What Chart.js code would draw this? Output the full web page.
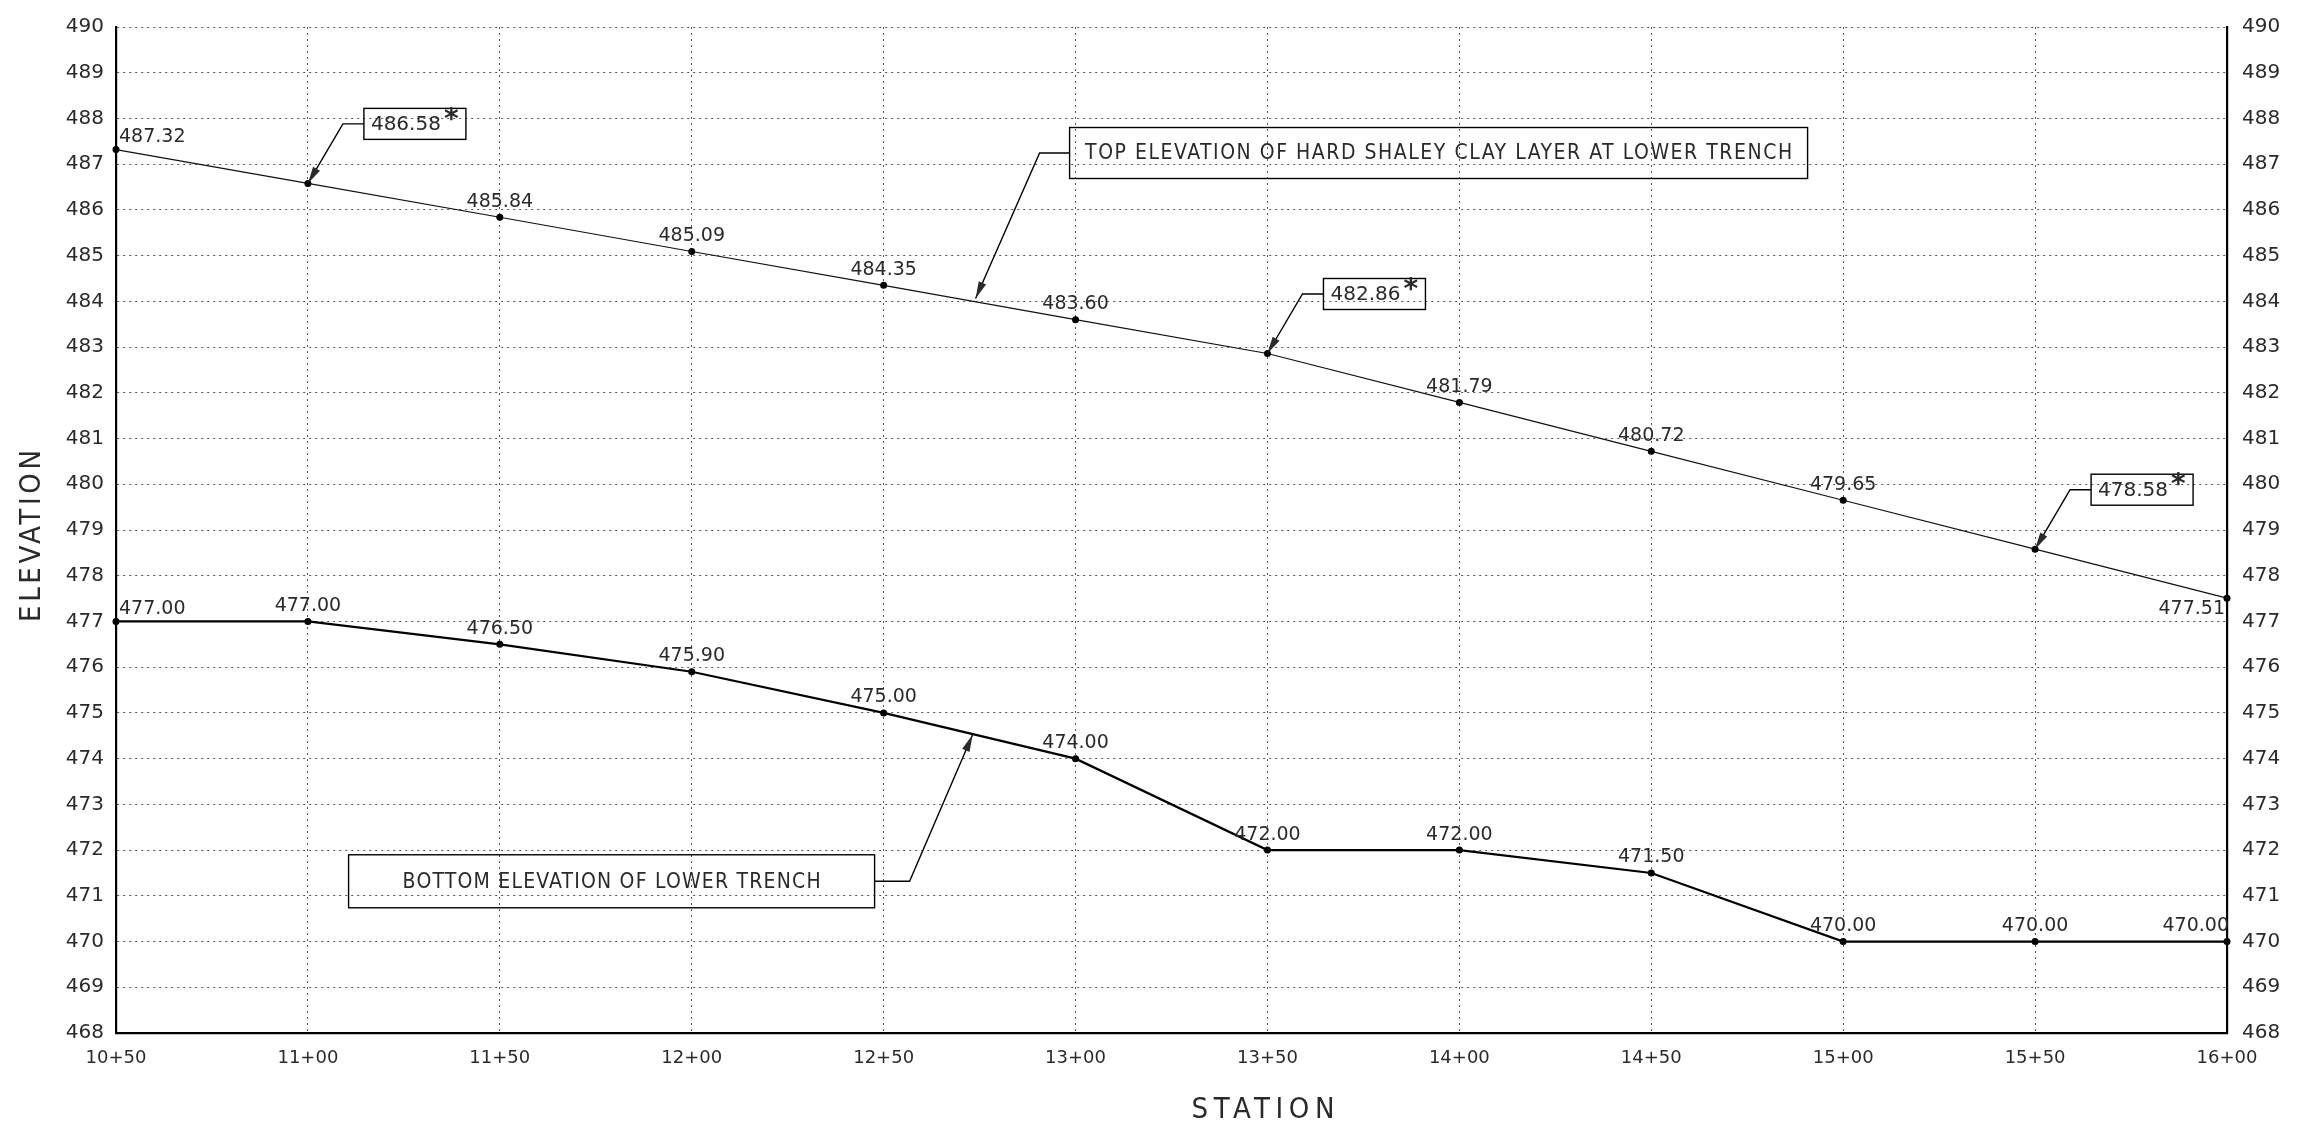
<!DOCTYPE html>
<html>
<head>
<meta charset="utf-8">
<script src="https://cdn.jsdelivr.net/npm/chart.js@4/dist/chart.umd.min.js"></script>
<style>
  html, body { margin: 0; padding: 0; background: #fff; }
  #wrap { width: 2299px; height: 1128px; }
</style>
</head>
<body>
<div id="wrap"><canvas id="profileChart" width="2299" height="1128"></canvas></div>
<script>
// stations in feet (10+50 = 1050)
const stations = [1050, 1100, 1150, 1200, 1250, 1300, 1350, 1400, 1450, 1500, 1550, 1600];
const topClayElev = [487.32, 486.58, 485.84, 485.09, 484.35, 483.60, 482.86, 481.79, 480.72, 479.65, 478.58, 477.51];
const bottomTrenchElev = [477.00, 477.00, 476.50, 475.90, 475.00, 474.00, 472.00, 472.00, 471.50, 470.00, 470.00, 470.00];
const boxedTopIdx = [1, 6, 10]; // values shown in boxes with asterisk
const elevMin = 468;
const elevMax = 490;
const stationStep = 50;
const topNote = 'TOP ELEVATION OF HARD SHALEY CLAY LAYER AT LOWER TRENCH';
const bottomNote = 'BOTTOM ELEVATION OF LOWER TRENCH';
const noteStation = 1275;

const FONT = "'DejaVu Sans', sans-serif";
const COND = "'DejaVu Sans Condensed', 'DejaVu Sans', sans-serif";
const INK = '#2a2a2a';

function stationLabel(v) {
    const hundreds = Math.floor(v / 100);
    const rest = v % 100;
    return hundreds + '+' + (rest < 10 ? '0' + rest : rest);
}

function interp(series, st) {
    for (let i = 0; i < stations.length - 1; i++) {
        if (st >= stations[i] && st <= stations[i + 1]) {
            const t = (st - stations[i]) / (stations[i + 1] - stations[i]);
            return series[i] + t * (series[i + 1] - series[i]);
        }
    }
    return series[series.length - 1];
}

function arrowHead(ctx, fromX, fromY, toX, toY) {
    const ang = Math.atan2(toY - fromY, toX - fromX);
    const len = 17, half = 4;
    ctx.beginPath();
    ctx.moveTo(toX, toY);
    ctx.lineTo(toX - len * Math.cos(ang) + half * Math.sin(ang), toY - len * Math.sin(ang) - half * Math.cos(ang));
    ctx.lineTo(toX - len * Math.cos(ang) - half * Math.sin(ang), toY - len * Math.sin(ang) + half * Math.cos(ang));
    ctx.closePath();
    ctx.fill();
}

// draws CAD-like spaced text centered at (cx, cy), stretched to a target width
function spacedText(ctx, text, cx, cy, width) {
    ctx.letterSpacing = '0px';
    const w = ctx.measureText(text).width;
    const ls = (width - w) / (text.length - 1);
    ctx.letterSpacing = ls + 'px';
    ctx.textAlign = 'left';
    ctx.textBaseline = 'middle';
    ctx.fillText(text, cx - width / 2, cy);
    ctx.letterSpacing = '0px';
}

const labelPlugin = {
    id: 'profileLabels',
    afterDatasetsDraw(chart) {
        const ctx = chart.ctx;
        const xs = chart.scales.x, ys = chart.scales.y;
        ctx.save();
        ctx.fillStyle = INK;
        ctx.strokeStyle = '#000';
        ctx.font = '19px ' + FONT;

        // plain value labels
        const drawVal = (val, i, px, py, last, belowLast) => {
            const txt = val.toFixed(2);
            if (i === 0) {
                ctx.textAlign = 'left';
                ctx.textBaseline = 'bottom';
                ctx.fillText(txt, px + 3, py - 3);
            } else if (last) {
                ctx.textAlign = 'right';
                if (belowLast) {
                    ctx.textBaseline = 'top';
                    ctx.fillText(txt, px - 2, py + 1);
                } else {
                    ctx.textBaseline = 'bottom';
                    ctx.fillText(txt, px + 2, py - 6);
                }
            } else {
                ctx.textAlign = 'center';
                ctx.textBaseline = 'bottom';
                ctx.fillText(txt, px, py - 6);
            }
        };
        stations.forEach((st, i) => {
            const px = xs.getPixelForValue(st);
            const last = i === stations.length - 1;
            if (!boxedTopIdx.includes(i)) {
                drawVal(topClayElev[i], i, px, ys.getPixelForValue(topClayElev[i]), last, true);
            }
            drawVal(bottomTrenchElev[i], i, px, ys.getPixelForValue(bottomTrenchElev[i]), last, false);
        });

        // boxed values with leader
        ctx.lineWidth = 1.4;
        boxedTopIdx.forEach(i => {
            const px = xs.getPixelForValue(stations[i]);
            const py = ys.getPixelForValue(topClayElev[i]);
            const bx = px + 56, by = py - 75, bw = 102, bh = 31;
            ctx.strokeRect(bx, by, bw, bh);
            ctx.beginPath();
            ctx.moveTo(bx, by + bh / 2);
            ctx.lineTo(px + 35, by + bh / 2);
            ctx.lineTo(px, py);
            ctx.stroke();
            arrowHead(ctx, px + 35, by + bh / 2, px, py);
            ctx.font = '20px ' + FONT;
            ctx.textAlign = 'left';
            ctx.textBaseline = 'middle';
            ctx.fillText(topClayElev[i].toFixed(2), bx + 7, by + bh / 2 + 1);
            ctx.font = 'bold 28px ' + FONT;
            ctx.textBaseline = 'top';
            ctx.fillText('*', bx + 80, by - 2);
        });

        // long notes
        const tx = xs.getPixelForValue(noteStation);
        const tTop = ys.getPixelForValue(interp(topClayElev, noteStation));
        const tBot = ys.getPixelForValue(interp(bottomTrenchElev, noteStation));
        ctx.lineWidth = 1.4;

        // top note
        let bx = tx + 90, by = tTop - 175, bw = 738, bh = 51;
        ctx.strokeRect(bx, by, bw, bh);
        ctx.beginPath();
        ctx.moveTo(bx, by + bh / 2);
        ctx.lineTo(tx + 60, by + bh / 2);
        ctx.lineTo(tx - 4, tTop - 4);
        ctx.stroke();
        arrowHead(ctx, tx + 60, by + bh / 2, tx - 4, tTop - 4);
        ctx.font = '21px ' + COND;
        spacedText(ctx, topNote, bx + bw / 2, by + bh / 2 + 1, 707);

        // bottom note
        bw = 526; bh = 53;
        bx = tx - 631; by = tBot + 119;
        ctx.strokeRect(bx, by, bw, bh);
        ctx.beginPath();
        ctx.moveTo(bx + bw, by + bh / 2);
        ctx.lineTo(tx - 70, by + bh / 2);
        ctx.lineTo(tx - 7, tBot - 1);
        ctx.stroke();
        arrowHead(ctx, tx - 70, by + bh / 2, tx - 7, tBot - 1);
        spacedText(ctx, bottomNote, bx + bw / 2, by + bh / 2 + 1, 418);

        // axis titles
        ctx.font = '29px ' + COND;
        spacedText(ctx, 'STATION', 1263, 1110, 143);
        ctx.translate(32, 536);
        ctx.rotate(-Math.PI / 2);
        spacedText(ctx, 'ELEVATION', 0, 0, 172);
        ctx.restore();
    }
};

const ctx = document.getElementById('profileChart').getContext('2d');
const tickFont = { family: FONT, size: 20 };

new Chart(ctx, {
    type: 'line',
    data: {
        datasets: [
            {
                label: 'Top of hard shaley clay',
                data: stations.map((s, i) => ({ x: s, y: topClayElev[i] })),
                borderColor: '#111',
                borderWidth: 1.2,
                pointRadius: 3.5,
                pointBackgroundColor: '#000',
                pointBorderWidth: 0,
                tension: 0
            },
            {
                label: 'Bottom of lower trench',
                data: stations.map((s, i) => ({ x: s, y: bottomTrenchElev[i] })),
                borderColor: '#000',
                borderWidth: 2.2,
                pointRadius: 3.5,
                pointBackgroundColor: '#000',
                pointBorderWidth: 0,
                tension: 0
            }
        ]
    },
    options: {
        responsive: false,
        animation: false,
        clip: false,
        layout: { padding: { top: 20, left: 0, right: 0, bottom: 0 } },
        plugins: { legend: { display: false }, tooltip: { enabled: false } },
        scales: {
            x: {
                type: 'linear',
                min: stations[0],
                max: stations[stations.length - 1],
                afterFit(scale) { scale.height = 95; },
                ticks: {
                    stepSize: stationStep,
                    callback: v => stationLabel(v),
                    font: { family: FONT, size: 18 },
                    color: INK,
                    padding: 15,
                    maxRotation: 0
                },
                grid: { color: '#555', lineWidth: 1, drawTicks: false },
                border: { display: true, color: '#000', width: 2.2, dash: [2, 4] }
            },
            y: {
                position: 'left',
                min: elevMin,
                max: elevMax,
                afterFit(scale) { scale.width = 116; },
                ticks: { stepSize: 1, font: tickFont, color: INK, padding: 12 },
                grid: { color: '#555', lineWidth: 1, drawTicks: false },
                border: { display: true, color: '#000', width: 2.2, dash: [2, 4] }
            },
            y2: {
                position: 'right',
                min: elevMin,
                max: elevMax,
                afterFit(scale) { scale.width = 72; },
                ticks: { stepSize: 1, font: tickFont, color: INK, padding: 15 },
                grid: { display: false, drawTicks: false },
                border: { display: true, color: '#000', width: 2.2 }
            }
        }
    },
    plugins: [labelPlugin]
});
</script>
</body>
</html>
